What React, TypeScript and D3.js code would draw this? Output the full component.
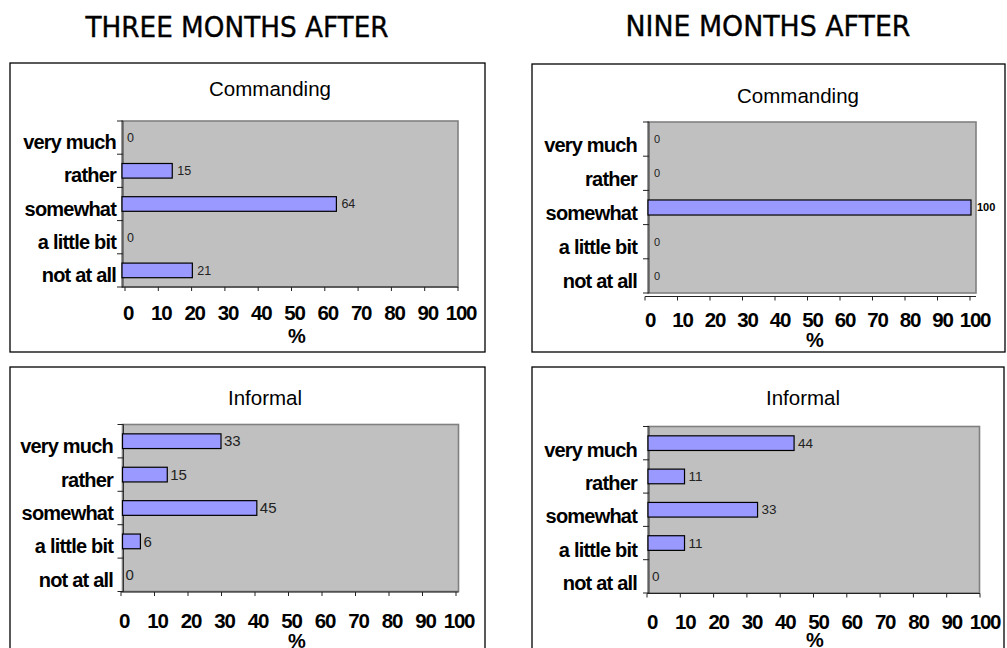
import React from "react";
import * as d3 from "d3";

const categories = ["very much", "rather", "somewhat", "a little bit", "not at all"];
const threeCommanding = [0, 15, 64, 0, 21];
const nineCommanding = [0, 0, 100, 0, 0];
const threeInformal = [33, 15, 45, 6, 0];
const nineInformal = [44, 11, 33, 11, 0];
const xTicks = [0, 10, 20, 30, 40, 50, 60, 70, 80, 90, 100];
const columnTitles = ["THREE MONTHS AFTER", "NINE MONTHS AFTER"];
const panelTitles = ["Commanding", "Informal"];
const axisTitle = "%";

type Layout = {
  box: [number, number, number, number];
  title: [number, number];
  plot: [number, number, number, number];
  tick0: number;
  tick100: number;
  bar100: number;
  axisY: number;
  tickLabelY: number;
  tickLabelDx: number;
  pct: [number, number];
  catRight: number;
  catDy: number;
  labelFont: number;
  labelDx: number;
};

const layouts: Layout[] = [
  { box: [10, 63, 485, 352], title: [270, 96], plot: [122, 121, 458, 287], tick0: 125, tick100: 458, bar100: 457, axisY: 287, tickLabelY: 320, tickLabelDx: 3, pct: [297, 343], catRight: 116, catDy: 11.5, labelFont: 12.5, labelDx: 5 },
  { box: [532, 64, 1005, 352], title: [798, 103], plot: [648, 122, 976, 293], tick0: 645, tick100: 970, bar100: 971, axisY: 296.5, tickLabelY: 327, tickLabelDx: 5, pct: [815, 347], catRight: 637, catDy: 12.5, labelFont: 11, labelDx: 6 },
  { box: [10, 367, 485, 670], title: [265, 405], plot: [122.5, 424.5, 458.5, 591.5], tick0: 121, tick100: 456, bar100: 421, axisY: 592, tickLabelY: 628, tickLabelDx: 3, pct: [297, 648], catRight: 113, catDy: 12, labelFont: 15, labelDx: 3 },
  { box: [532, 367, 1004, 670], title: [803, 405], plot: [648, 426.5, 979.5, 593], tick0: 647, tick100: 980, bar100: 980, axisY: 593.5, tickLabelY: 628.5, tickLabelDx: 5, pct: [815, 647], catRight: 637, catDy: 13.5, labelFont: 13.5, labelDx: 4 },
];

const panelData = [threeCommanding, nineCommanding, threeInformal, nineInformal];
const panelTitleIdx = [0, 0, 1, 1];

const sans = "'Liberation Sans', Arial, Helvetica, sans-serif";

function Panel({ values, layout, title }: { values: number[]; layout: Layout; title: string }) {
  const [bx0, by0, bx1, by1] = layout.box;
  const [px0, py0, px1, py1] = layout.plot;
  const x = d3.scaleLinear().domain([0, 100]).range([layout.tick0, layout.tick100]);
  const xb = d3.scaleLinear().domain([0, 100]).range([px0, layout.bar100]);
  const y = d3.scaleBand<string>().domain(categories).range([py0, py1]).padding(0);
  const bw = y.bandwidth();
  const barH = bw * 0.44;
  return (
    <g>
      <rect x={bx0} y={by0} width={bx1 - bx0} height={by1 - by0} fill="#fff" stroke="#000" strokeWidth={1.3} />
      <text x={layout.title[0]} y={layout.title[1]} textAnchor="middle" fontFamily={sans} fontSize={20.5} letterSpacing={0} fill="#000">
        {title}
      </text>
      <rect x={px0} y={py0} width={px1 - px0} height={py1 - py0} fill="#c0c0c0" stroke="#808080" strokeWidth={1.6} />
      <line x1={px0 + 1} x2={px0 + 1} y1={py0} y2={py1} stroke="#333" strokeWidth={1} />
      {d3.range(categories.length + 1).map((i) => {
        const yy = py0 + i * bw;
        return <line key={"yt" + i} x1={px0 - 5} x2={px0 + 1} y1={yy} y2={yy} stroke="#222" strokeWidth={1} />;
      })}
      <line x1={Math.min(px0, layout.tick0)} x2={Math.max(px1, layout.tick100)} y1={layout.axisY} y2={layout.axisY} stroke="#222" strokeWidth={1} />
      {xTicks.map((t) => (
        <line key={"xt" + t} x1={x(t)} x2={x(t)} y1={layout.axisY} y2={layout.axisY + 4} stroke="#222" strokeWidth={1} />
      ))}
      {xTicks.map((t) => (
        <text key={"xl" + t} x={x(t) + layout.tickLabelDx} y={layout.tickLabelY} textAnchor="middle" fontFamily={sans} fontWeight="bold" fontSize={20.5} letterSpacing={-1.2} fill="#000">
          {t}
        </text>
      ))}
      <text x={layout.pct[0]} y={layout.pct[1]} textAnchor="middle" fontFamily={sans} fontWeight="bold" fontSize={20} fill="#000">
        {axisTitle}
      </text>
      {categories.map((c) => (
        <text key={"cl" + c} x={layout.catRight} y={(y(c) as number) + bw / 2 + layout.catDy} textAnchor="end" fontFamily={sans} fontWeight="bold" fontSize={20} letterSpacing={-0.8} fill="#000">
          {c}
        </text>
      ))}
      {categories.map((c, i) => {
        const v = values[i];
        const cy = (y(c) as number) + bw / 2;
        return (
          <g key={"b" + c}>
            {v > 0 && (
              <rect x={xb(0)} y={cy - barH / 2} width={xb(v) - xb(0)} height={barH} fill="#9999ff" stroke="#000" strokeWidth={1.2} />
            )}
            <text x={xb(v) + layout.labelDx} y={cy} dy="0.35em" fontFamily={sans} fontSize={layout.labelFont} fill={v === 100 ? "#000" : "#222"} fontWeight={v === 100 ? "bold" : "normal"}>
              {v}
            </text>
          </g>
        );
      })}
    </g>
  );
}

export default function App() {
  return (
    <svg width={1007} height={648} style={{ position: "absolute", left: 0, top: 0, background: "#fff" }}>
      <rect x={0} y={0} width={1007} height={648} fill="#fff" />
      <text x={237} y={37} textAnchor="middle" fontFamily="'DejaVu Sans', Verdana, sans-serif" fontSize={29} textLength={303} lengthAdjust="spacingAndGlyphs" stroke="#000" strokeWidth={0.4} fill="#000">
        {columnTitles[0]}
      </text>
      <text x={768} y={36} textAnchor="middle" fontFamily="'DejaVu Sans', Verdana, sans-serif" fontSize={29} textLength={285} lengthAdjust="spacingAndGlyphs" stroke="#000" strokeWidth={0.4} fill="#000">
        {columnTitles[1]}
      </text>
      {layouts.map((l, i) => (
        <Panel key={i} values={panelData[i]} layout={l} title={panelTitles[panelTitleIdx[i]]} />
      ))}
    </svg>
  );
}
